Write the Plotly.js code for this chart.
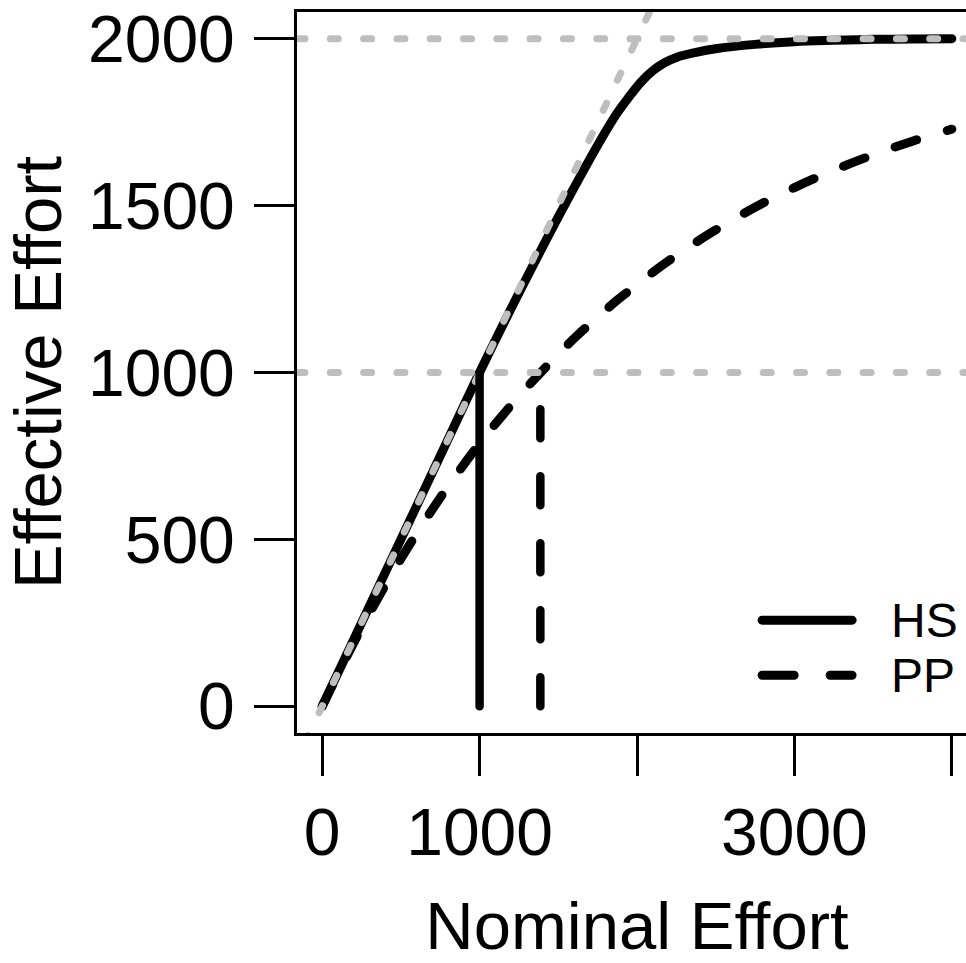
<!DOCTYPE html>
<html>
<head>
<meta charset="utf-8">
<script src="https://cdn.plot.ly/plotly-3.0.1.min.js"></script>
<style>
  html, body { margin: 0; padding: 0; background: #fff; overflow: hidden; }
  #chart { width: 1000px; height: 963px; }
  .scatterlayer path.js-line, .shapelayer path { stroke-linecap: round !important; }
</style>
</head>
<body>
<div id="chart"></div>
<script>
// ---- data ----
const nominalEffort = [0, 250, 500, 750, 1000, 1250, 1500, 1625, 1750, 1875, 1950, 2025, 2100, 2175, 2250, 2375, 2500, 2750, 3000, 3250, 3500, 3750, 4000];
const hsEffective   = [0, 250, 500, 750, 1000, 1238, 1466, 1575, 1681, 1778, 1826, 1870, 1904, 1928, 1944, 1959, 1970, 1983, 1991, 1995, 1998, 1999, 2000];
const ppEffective   = [0, 235, 442, 625, 787, 929, 1055, 1113, 1166, 1217, 1245, 1273, 1300, 1326, 1351, 1390, 1427, 1495, 1554, 1606, 1652, 1693, 1729];

const refLevels = [1000, 2000];          // grey horizontal reference lines
const identityLine = [-200, 2200];       // grey 1:1 line (clipped to plot)
const hsCross = {n: 1000, e: 1000};      // solid vertical marker
const ppCross = {n: 1386, e: 1000};      // dashed vertical marker

const xTickVals = [0, 1000, 2000, 3000, 4000];
const xTickText = ['0', '1000', '', '3000', ''];
const yTickVals = [0, 500, 1000, 1500, 2000];
const yTickText = ['0', '500', '1000', '1500', '2000'];
const xRange = [-160, 4160];
const yRange = [-80, 2080];

const legendLabels = ['HS', 'PP'];

// ---- traces ----
const GREY = '#bebebe';
const FONT = 'Liberation Sans, Arial, Helvetica, sans-serif';
const traces = [];

traces.push({x: nominalEffort, y: hsEffective, mode: 'lines', name: 'HS',
  line: {color: '#000', width: 9, shape: 'spline', smoothing: 1}, hoverinfo: 'skip'});
traces.push({x: nominalEffort, y: ppEffective, mode: 'lines', name: 'PP',
  line: {color: '#000', width: 9, dash: '23px,32px', shape: 'spline', smoothing: 1}, hoverinfo: 'skip'});

refLevels.forEach(v => traces.push({x: xRange, y: [v, v], mode: 'lines',
  line: {color: GREY, width: 7, dash: '8px,25.3px'}, hoverinfo: 'skip'}));
traces.push({x: identityLine, y: identityLine, mode: 'lines',
  line: {color: GREY, width: 7, dash: '8px,25.3px'}, hoverinfo: 'skip'});

traces.push({x: [hsCross.n, hsCross.n], y: [0, hsCross.e], mode: 'lines',
  line: {color: '#000', width: 8.5}, hoverinfo: 'skip'});
traces.push({x: [ppCross.n, ppCross.n], y: [0, ppCross.e], mode: 'lines',
  line: {color: '#000', width: 8.5, dash: '29px,38px'}, hoverinfo: 'skip'});

// ---- legend (drawn as keys + labels in plot-paper space) ----
const legY = [0.1565, 0.0801];
const shapes = [
  {type: 'line', xref: 'paper', yref: 'paper', x0: 0.684, x1: 0.8163, y0: legY[0], y1: legY[0],
   line: {color: '#000', width: 9}},
  {type: 'line', xref: 'paper', yref: 'paper', x0: 0.684, x1: 0.8163, y0: legY[1], y1: legY[1],
   line: {color: '#000', width: 9, dash: '32px,36px'}}
];
const annotations = legendLabels.map((t, i) => ({
  text: t, xref: 'paper', yref: 'paper', x: 0.8707, y: legY[i], xanchor: 'left', yanchor: 'middle',
  showarrow: false, font: {family: FONT, size: 48, color: '#000'}
}));

const axisCommon = {
  showline: true, linecolor: '#000', linewidth: 3, mirror: true,
  ticks: 'outside', ticklen: 40, tickwidth: 3, tickcolor: '#000',
  showgrid: false, zeroline: false, automargin: false,
  tickfont: {family: FONT, size: 66, color: '#000'}
};

const layout = {
  width: 1000, height: 963,
  margin: {l: 297, r: 23, t: 12, b: 230, pad: 0},
  paper_bgcolor: '#fff', plot_bgcolor: '#fff',
  showlegend: false,
  xaxis: Object.assign({}, axisCommon, {
    range: xRange, tickmode: 'array', tickvals: xTickVals, ticktext: xTickText,
    ticklabelstandoff: 0,
    title: {text: 'Nominal Effort', font: {family: FONT, size: 67, color: '#000'}, standoff: 56}
  }),
  yaxis: Object.assign({}, axisCommon, {
    range: yRange, tickmode: 'array', tickvals: yTickVals, ticktext: yTickText,
    tickangle: 0, ticklabelstandoff: 6,
    title: {text: 'Effective Effort', font: {family: FONT, size: 67, color: '#000'}, standoff: 16}
  }),
  shapes: shapes,
  annotations: annotations
};

Plotly.newPlot('chart', traces, layout, {staticPlot: true, displayModeBar: false});
</script>
</body>
</html>
